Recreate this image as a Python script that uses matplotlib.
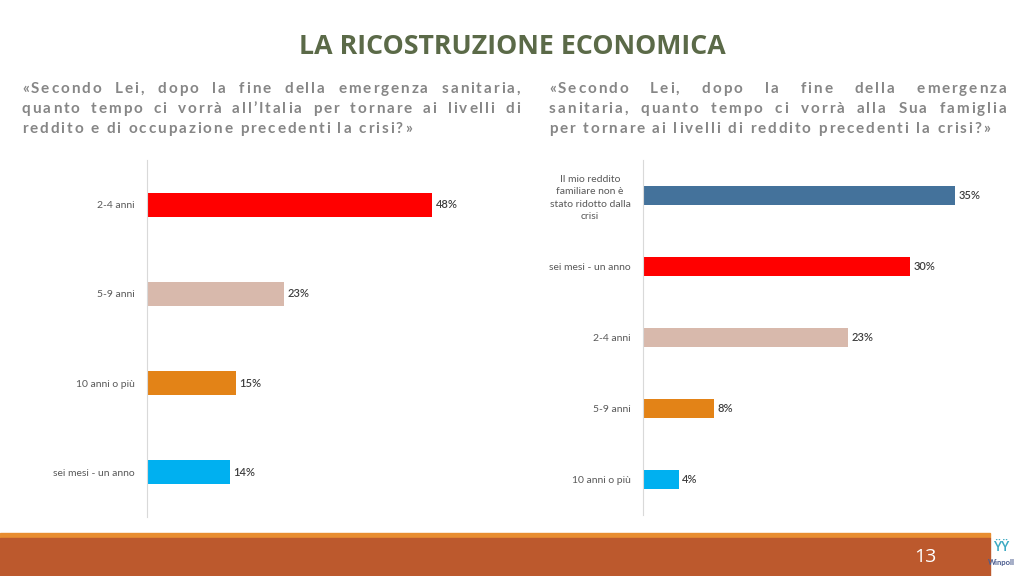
import matplotlib
matplotlib.use("Agg")
import matplotlib.pyplot as plt
from matplotlib.patches import Rectangle
from matplotlib.font_manager import FontProperties

# ---------------- data ----------------
left_categories = ["2-4 anni", "5-9 anni", "10 anni o più", "sei mesi - un anno"]
left_values = [48, 23, 15, 14]
left_colors = ["#FF0000", "#D8B9AC", "#E38317", "#00B0F0"]

right_categories = ["Il mio reddito\nfamiliare non è\nstato ridotto dalla\ncrisi",
                    "sei mesi - un anno", "2-4 anni", "5-9 anni", "10 anni o più"]
right_values = [35, 30, 23, 8, 4]
right_colors = ["#44729B", "#FF0000", "#D8B9AC", "#E38317", "#00B0F0"]

title = "LA RICOSTRUZIONE ECONOMICA"
left_question = ["«Secondo Lei, dopo la fine della emergenza sanitaria,",
                 "quanto tempo ci vorrà all’Italia per tornare ai livelli di",
                 "reddito e di occupazione precedenti la crisi?»"]
right_question = ["«Secondo Lei, dopo la fine della emergenza",
                  "sanitaria, quanto tempo ci vorrà alla Sua famiglia",
                  "per tornare ai livelli di reddito precedenti la crisi?»"]
page_number = "13"

W, H = 1024, 576
fig = plt.figure(figsize=(W / 100, H / 100), dpi=100)
fig.patch.set_facecolor("white")

FONT = ["Lato", "DejaVu Sans"]


def fx(px):
    return px / W


def fy(py):
    return 1 - py / H


# ---------------- title ----------------
fig.text(0.5, fy(47), title, ha="center", va="center", fontsize=19.3,
         fontweight="bold", color="#5B6A48", family=["Open Sans", "DejaVu Sans"])

# ---------------- justified, letter-spaced questions ----------------
fig.canvas.draw()
renderer = fig.canvas.get_renderer()
qprops = FontProperties(family=FONT, weight="bold", size=11)
_cache = {}


def char_w(c):
    if c not in _cache:
        t = fig.text(0, 0, "x" + c + "x", fontproperties=qprops)
        w1 = t.get_window_extent(renderer).width
        t.remove()
        t = fig.text(0, 0, "xx", fontproperties=qprops)
        w0 = t.get_window_extent(renderer).width
        t.remove()
        _cache[c] = w1 - w0
    return _cache[c]


def line_width(s, track):
    return sum(char_w(c) + track for c in s)


# fit tracking to the last line on the right
target = 992 - 549
base = sum(char_w(c) for c in right_question[2])
tracking = (target - base) / len(right_question[2])


def draw_block(lines, x0, x1, baselines):
    for i, (line, yb) in enumerate(zip(lines, baselines)):
        words = line.split(" ")
        last = (i == len(lines) - 1)
        if last:
            gap = char_w(" ") + tracking
        else:
            total = sum(line_width(wd, tracking) for wd in words)
            gap = (x1 - x0 - total) / (len(words) - 1)
        x = x0
        for wd in words:
            for c in wd:
                fig.text(fx(x), fy(yb), c, fontproperties=qprops, color="#868686",
                         ha="left", va="baseline")
                x += char_w(c) + tracking
            x += gap


baselines = [93, 113, 133]
draw_block(left_question, 22, 522, baselines)
draw_block(right_question, 549, 1008, baselines)


# ---------------- bar charts ----------------
def bar_panel(rect, cats, vals, cols, xmax, bar_h):
    ax = fig.add_axes(rect)
    n = len(cats)
    pos = list(range(n))
    ax.barh(pos, vals, height=bar_h, color=cols, edgecolor="none")
    ax.set_ylim(n - 0.5, -0.5)
    ax.set_xlim(0, xmax)
    ax.set_yticks(pos)
    ax.set_yticklabels(cats, fontsize=7.5, color="#595959", family=FONT)
    for lab in ax.get_yticklabels():
        lab.set_multialignment("center")
        lab.set_linespacing(1.45)
    ax.tick_params(axis="y", length=0, pad=9)
    ax.set_xticks([])
    for s in ["top", "right", "bottom"]:
        ax.spines[s].set_visible(False)
    ax.spines["left"].set_color("#D9D9D9")
    ax.spines["left"].set_linewidth(0.8)
    for p, v in zip(pos, vals):
        ax.annotate(f"{v}%", (v, p), xytext=(2.5, 0), textcoords="offset points",
                    ha="left", va="center", fontsize=8, color="#404040",
                    family=FONT, fontweight="semibold")
    return ax


bar_panel([fx(147), 1 - 517 / H, fx(50 * 5.94), 357 / H],
          left_categories, left_values, left_colors, 50, 0.27)
bar_panel([fx(643), 1 - 515 / H, fx(40 * 8.91), 355 / H],
          right_categories, right_values, right_colors, 40, 0.28)

# ---------------- footer ----------------
fig.patches.append(Rectangle((0, fy(538)), fx(990), fy(533) - fy(538),
                             transform=fig.transFigure, color="#E88D30", zorder=1))
fig.patches.append(Rectangle((0, 0), fx(990), fy(538),
                             transform=fig.transFigure, color="#BC592D", zorder=1))
fig.text(fx(925), fy(557), page_number, ha="center", va="center", fontsize=14,
         color="white", family=["Open Sans", "DejaVu Sans"])

# small logo
fig.text(fx(1001), fy(562), "Winpoll", ha="center", va="center", fontsize=5.5,
         color="#4B5C8F", family=FONT, fontweight="bold")
fig.text(fx(1001), fy(547), "ŸŸ", ha="center", va="center", fontsize=9,
         color="#3BA9C2", family=FONT, fontweight="bold")

fig.savefig("out.png", dpi=100, facecolor="white")
